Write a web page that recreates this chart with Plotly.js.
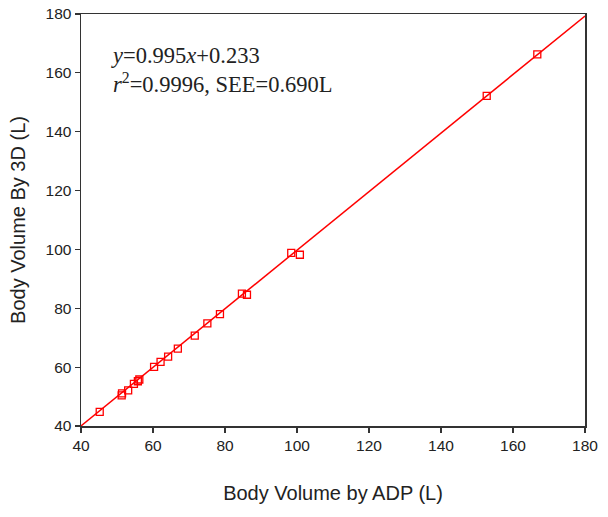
<!DOCTYPE html>
<html>
<head>
<meta charset="utf-8">
<script src="https://cdn.plot.ly/plotly-3.0.1.min.js"></script>
<style>html,body{margin:0;padding:0;background:#fff;}#chart{width:608px;height:517px;}</style>
</head>
<body>
<div id="chart"></div>
<script>
// Body volume measured by ADP (x) vs 3D scan (y), litres
const adpVolume = [45.2, 51.3, 51.4, 53.1, 54.7, 55.8, 56.2, 60.3, 62.1, 64.2, 66.9, 71.6, 75.1, 78.6, 84.7, 86.1, 98.4, 100.8, 152.7, 166.75];
const scanVolume = [44.8, 50.4, 51.1, 52.1, 54.3, 55.2, 55.8, 60.1, 61.8, 63.6, 66.3, 70.7, 74.9, 78.0, 85.0, 84.6, 98.8, 98.2, 152.2, 166.3];
const slope = 0.995;
const intercept = 0.233;
const lineRange = [40, 180];
const xTicks = [40, 60, 80, 100, 120, 140, 160, 180];
const yTicks = [40, 60, 80, 100, 120, 140, 160, 180];

const fitY = lineRange.map(v => slope * v + intercept);

const data = [
  {
    x: lineRange, y: fitY, type: 'scatter', mode: 'lines',
    line: {color: '#ff0000', width: 1.5}, hoverinfo: 'skip'
  },
  {
    x: adpVolume, y: scanVolume, type: 'scatter', mode: 'markers',
    marker: {symbol: 'square-open', size: 7, color: '#ff0000', line: {width: 1.3, color: '#ff0000'}}
  }
];

const axisFont = {family: 'Liberation Sans, Arial, sans-serif', size: 15.5, color: '#222'};
const titleFont = {family: 'Liberation Sans, Arial, sans-serif', size: 20, color: '#222'};
const layout = {
  width: 608, height: 517,
  margin: {l: 81, r: 23, t: 14, b: 91},
  paper_bgcolor: '#fff', plot_bgcolor: '#fff',
  showlegend: false,
  xaxis: {
    range: lineRange, tickvals: xTicks, ticktext: xTicks.map(String),
    showgrid: false, zeroline: false,
    showline: true, mirror: true, linecolor: '#333', linewidth: 1.5,
    ticks: 'outside', ticklen: 5, tickwidth: 1.2, tickcolor: '#333',
    tickfont: axisFont,
    title: {text: 'Body Volume by ADP (L)', font: titleFont, standoff: 33},
    automargin: false
  },
  yaxis: {
    range: lineRange, tickvals: yTicks, ticktext: yTicks.map(String),
    showgrid: false, zeroline: false,
    showline: true, mirror: true, linecolor: '#333', linewidth: 1.5,
    ticks: 'outside', ticklen: 5, tickwidth: 1.2, tickcolor: '#333',
    tickfont: axisFont,
    title: {text: 'Body Volume By 3D (L)', font: titleFont, standoff: 14},
    automargin: false
  },
  annotations: [{
    xref: 'x', yref: 'y', x: 47.8, y: 161.0, xanchor: 'left', yanchor: 'middle', align: 'left',
    showarrow: false,
    text: '<i>y</i>=0.995<i>x</i>+0.233<br><i>r</i><sup>2</sup>=0.9996, SEE=0.690L',
    font: {family: 'Liberation Serif, Times New Roman, serif', size: 22.5, color: '#222'}
  }]
};

Plotly.newPlot('chart', data, layout, {displayModeBar: false, staticPlot: true});
</script>
</body>
</html>
